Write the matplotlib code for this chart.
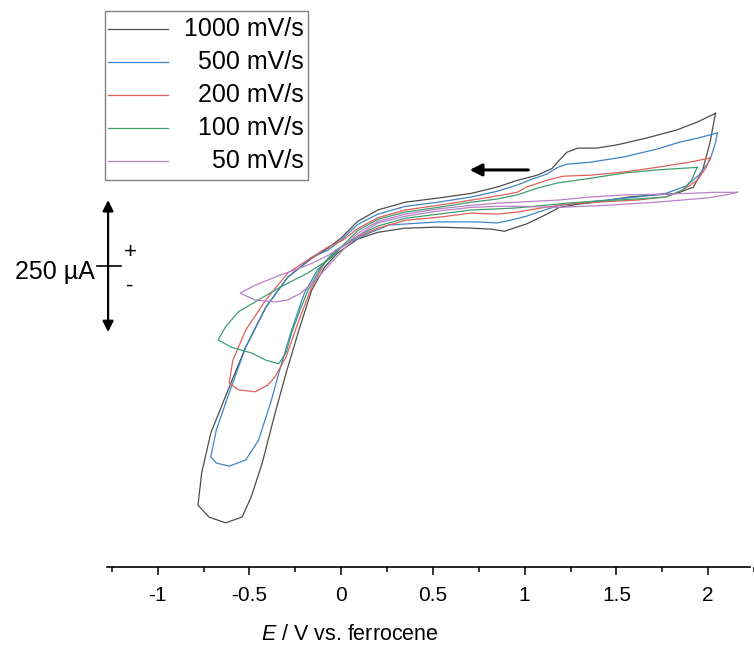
# Cyclic voltammograms at different scan rates (scale bar instead of y axis)

import numpy as np
import matplotlib.pyplot as plt
from matplotlib.patches import Rectangle
from matplotlib.lines import Line2D

plt.rcParams['font.family'] = ['Liberation Sans', 'DejaVu Sans']
plt.rcParams['mathtext.fontset'] = 'custom'
plt.rcParams['mathtext.it'] = 'Liberation Sans:italic'
plt.rcParams['mathtext.rm'] = 'Liberation Sans'

# potential (V vs. Fc) and current (uA), read around each closed loop
E_1000 = [2.04, 1.94, 1.83, 1.66, 1.50, 1.39, 1.29, 1.23, 1.19, 1.15, 1.07, 0.96, 0.85, 0.71, 0.53,
          0.35, 0.20, 0.09, 0.00, -0.07, -0.16, -0.29, -0.41, -0.52, -0.61, -0.71, -0.76, -0.78,
          -0.72, -0.63, -0.54, -0.49, -0.43, -0.36, -0.30, -0.23, -0.16, -0.09, -0.02, 0.09, 0.20,
          0.35, 0.53, 0.71, 0.82, 0.89, 0.94, 1.01, 1.11, 1.19, 1.29, 1.39, 1.57, 1.72, 1.83, 1.92,
          1.97, 2.01, 2.04]
I_1000 = [294, 277, 262, 246, 233, 227, 227, 219, 204, 188, 175, 165, 152, 140, 131,
          123, 108, 86, 54, 35, 15, -21, -79, -156, -233, -321, -398, -460,
          -483, -494, -483, -444, -379, -283, -206, -123, -46, -2, 25, 52, 65,
          73, 75, 73, 71, 67, 73, 81, 98, 113, 119, 123, 133, 137, 140, 152,
          185, 237, 294]

E_500 = [2.05, 1.94, 1.84, 1.72, 1.54, 1.36, 1.23, 1.18, 1.12, 1.04, 0.96, 0.85, 0.71, 0.53, 0.35,
         0.20, 0.09, 0.00, -0.07, -0.16, -0.29, -0.41, -0.52, -0.61, -0.68, -0.71, -0.68, -0.61,
         -0.52, -0.45, -0.38, -0.33, -0.27, -0.20, -0.13, -0.03, 0.05, 0.15, 0.26, 0.53, 0.74,
         0.85, 0.92, 1.01, 1.11, 1.19, 1.39, 1.61, 1.77, 1.88, 1.95, 2.01, 2.04, 2.05]
I_500 = [256, 246, 238, 225, 210, 200, 196, 190, 177, 167, 156, 144, 133, 123, 115,
         100, 80, 50, 31, 17, -21, -79, -156, -244, -315, -367, -379, -385,
         -373, -335, -258, -194, -123, -52, -8, 31, 46, 63, 79, 85, 85,
         83, 88, 96, 108, 117, 125, 133, 140, 154, 175, 204, 237, 256]

E_200 = [2.01, 1.90, 1.72, 1.54, 1.36, 1.21, 1.12, 1.01, 0.96, 0.85, 0.71, 0.53, 0.35, 0.20, 0.09,
         0.01, -0.07, -0.16, -0.29, -0.41, -0.52, -0.59, -0.61, -0.56, -0.47, -0.40, -0.36, -0.30,
         -0.23, -0.16, -0.09, -0.02, 0.09, 0.20, 0.35, 0.53, 0.71, 0.85, 0.96, 1.11, 1.23, 1.39,
         1.61, 1.77, 1.86, 1.94, 1.99, 2.01]
I_200 = [208, 200, 190, 181, 175, 173, 165, 152, 142, 135, 127, 117, 108, 93, 72,
         50, 37, 17, -13, -65, -123, -181, -225, -238, -242, -229, -213, -175,
         -104, -40, 6, 31, 56, 73, 88, 94, 102, 100, 104, 113, 119, 123,
         127, 133, 146, 165, 190, 208]

E_100 = [1.94, 1.72, 1.54, 1.36, 1.18, 1.07, 0.96, 0.85, 0.71, 0.53, 0.35, 0.20, 0.09, 0.01, -0.05,
         -0.18, -0.33, -0.45, -0.56, -0.63, -0.67, -0.60, -0.49, -0.41, -0.34, -0.30, -0.27, -0.23,
         -0.18, -0.11, -0.02, 0.09, 0.20, 0.35, 0.53, 0.71, 0.85, 0.96, 1.11, 1.23, 1.39, 1.61,
         1.77, 1.86, 1.91, 1.94]
I_100 = [190, 185, 179, 169, 160, 150, 137, 129, 123, 113, 104, 90, 68, 40, 17,
         -13, -40, -65, -88, -117, -142, -156, -167, -181, -188, -167, -129, -90,
         -46, -2, 31, 58, 77, 92, 100, 108, 110, 112, 117, 121, 125, 129,
         133, 146, 165, 190]

E_50 = [2.16, 2.04, 1.90, 1.72, 1.54, 1.36, 1.18, 0.96, 0.85, 0.71, 0.53, 0.35, 0.20, 0.09, 0.02,
        -0.09, -0.18, -0.33, -0.47, -0.55, -0.47, -0.36, -0.29, -0.22, -0.14, -0.05, 0.01, 0.09,
        0.20, 0.35, 0.53, 0.71, 0.85, 0.96, 1.18, 1.45, 1.72, 1.99, 2.10, 2.16]
I_50 = [142, 142, 140, 138, 137, 133, 127, 123, 121, 117, 110, 100, 86, 63, 40,
        17, 2, -17, -37, -52, -65, -69, -65, -52, -27, 8, 31, 58,
        83, 96, 106, 113, 115, 115, 113, 117, 123, 131, 137, 142]

rates = ['1000 mV/s', '500 mV/s', '200 mV/s', '100 mV/s', '50 mV/s']
colors = ['#4d4d4d', '#3d85c6', '#e0605a', '#3f9f6f', '#b981c8']
curves = [(E_1000, I_1000), (E_500, I_500), (E_200, I_200), (E_100, I_100), (E_50, I_50)]

W, H = 754, 648
fig = plt.figure(figsize=(W / 100, H / 100), dpi=100)
ax = fig.add_axes([0, 0.125, 1, 0.875])

for (E, I), c in zip(curves, colors):
    ax.plot(E, I, color=c, lw=0.9)

ax.set_xlim(-1.859, 2.228)
ax.set_ylim(-579, 512)

for s in ['top', 'left', 'right']:
    ax.spines[s].set_visible(False)
ax.spines['bottom'].set_bounds(-1.274, 2.228)
ax.spines['bottom'].set_linewidth(1.2)
ax.set_yticks([])

ax.set_xticks([-1, -0.5, 0, 0.5, 1, 1.5, 2])
ax.set_xticklabels(['-1', '-0.5', '0', '0.5', '1', '1.5', '2'])
ax.set_xticks(np.arange(-1.25, 2.3, 0.5), minor=True)
ax.tick_params(axis='x', which='major', direction='out', length=6, width=1.1, labelsize=15, pad=8)
ax.tick_params(axis='x', which='minor', direction='out', length=3.5, width=1.1)

fig.text(350 / W, 1 - 634 / H, r'$\it{E}$ / V vs. ferrocene', ha='center', va='center', fontsize=15.5)

# scale bar: 250 uA
ax.annotate('', xy=(-1.27, 127), xytext=(-1.27, -127),
            arrowprops=dict(arrowstyle='<|-|>', color='black', lw=1.6, mutation_scale=16,
                            shrinkA=0, shrinkB=0))
ax.plot([-1.333, -1.197], [0, 0], color='black', lw=1.2)
ax.text(-1.344, -12, '250 µA', ha='right', va='center', fontsize=18)
ax.text(-1.15, 26, '+', ha='center', va='center', fontsize=16)
ax.text(-1.15, -38, '-', ha='center', va='center', fontsize=16)

# scan direction arrow
ax.annotate('', xy=(0.70, 185), xytext=(1.02, 185),
            arrowprops=dict(arrowstyle='-|>', color='black', lw=2.2, mutation_scale=18,
                            shrinkA=0, shrinkB=0))

# legend box with right-aligned labels (positions in pixels from top-left)
fig.add_artist(Rectangle((105 / W, 1 - 180 / H), 203 / W, 169 / H, transform=fig.transFigure,
                         fill=False, edgecolor='#808080', lw=1.0))
row_y = [29, 62, 95, 128, 161]
for y, c, lab in zip(row_y, colors, rates):
    fig.add_artist(Line2D([108 / W, 168 / W], [1 - y / H, 1 - y / H], transform=fig.transFigure,
                          color=c, lw=0.9))
    fig.text(304 / W, 1 - y / H, lab, ha='right', va='center', fontsize=18)

fig.savefig('out.png', dpi=100)
